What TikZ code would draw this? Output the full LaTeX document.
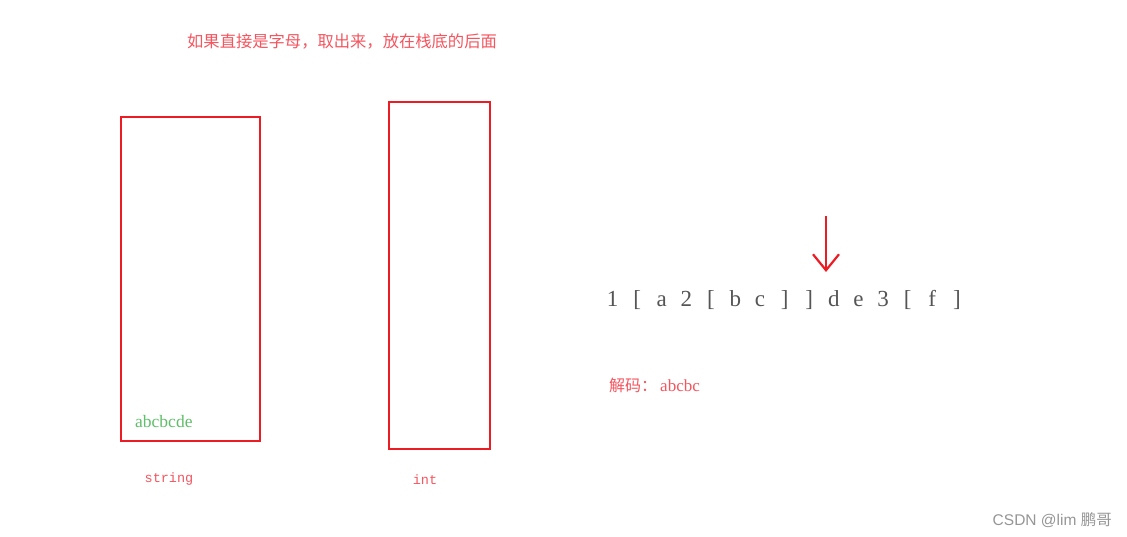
\documentclass[tikz,border=0pt]{standalone}
\usepackage{fontspec}
\setmainfont{Liberation Serif}
\setmonofont{Liberation Mono}
\setsansfont{Liberation Sans}
\newfontfamily\cjk{Noto Sans CJK SC}
\usetikzlibrary{arrows.meta}
\definecolor{boxred}{RGB}{237,28,36}
\definecolor{txtred}{RGB}{245,85,95}
\definecolor{txtgreen}{RGB}{95,190,105}
\definecolor{seqgray}{RGB}{85,85,85}
\definecolor{wmgray}{RGB}{150,150,150}
\newcommand{\tk}[1]{\makebox[24.6bp]{#1}}
\tikzset{
  stackbox/.style={draw=boxred, line width=2.8bp},
  redtxt/.style={text=txtred, inner sep=0pt},
}
\begin{document}
\begin{tikzpicture}[x=1bp,y=-1bp]
\useasboundingbox (0,0) rectangle (1127,537);
\fill[white] (0,0) rectangle (1127,537);
\node[redtxt, font=\cjk\fontsize{16.3bp}{19bp}\selectfont] (title) at (342,41) {如果直接是字母，取出来，放在栈底的后面};
\draw[stackbox] (121,117) rectangle (260,441);
\draw[stackbox] (389,102) rectangle (490,449);
\node[anchor=west, inner sep=0pt, text=txtgreen, font=\fontsize{17.5bp}{20bp}\selectfont] (content) at (135,422) {abcbcde};
\node[redtxt, font=\ttfamily\fontsize{13.5bp}{16bp}\selectfont] (strlbl) at (169,479) {string};
\node[redtxt, font=\ttfamily\fontsize{13.5bp}{16bp}\selectfont] (intlbl) at (425,480) {int};
\node[anchor=west, inner sep=0pt, text=seqgray, font=\fontsize{23bp}{26bp}\selectfont] (seq) at (600,300)
 {\tk{1}\tk{[}\tk{a}\tk{2}\tk{[}\tk{b}\tk{c}\tk{]}\tk{]}\tk{d}\tk{e}\tk{3}\tk{[}\tk{f}\tk{]}};
\coordinate (atop) at (826,216);
\coordinate (abot) at (826,272);
\draw[boxred, line width=2.2bp, -{Straight Barb[length=16bp,width=26bp,line width=2.2bp]}] (atop) -- (abot);
\node[anchor=west, inner sep=0pt, text=txtred, font=\fontsize{17bp}{20bp}\selectfont] (decode) at (609,385) {{\cjk\fontsize{16bp}{19bp}\selectfont 解码：}\hspace{3bp}abcbc};
\node[anchor=east, inner sep=0pt, text=wmgray, font=\sffamily\fontsize{15.5bp}{18bp}\selectfont] (wm) at (1112,520) {CSDN @lim {\cjk 鹏哥}};
\end{tikzpicture}
\end{document}
